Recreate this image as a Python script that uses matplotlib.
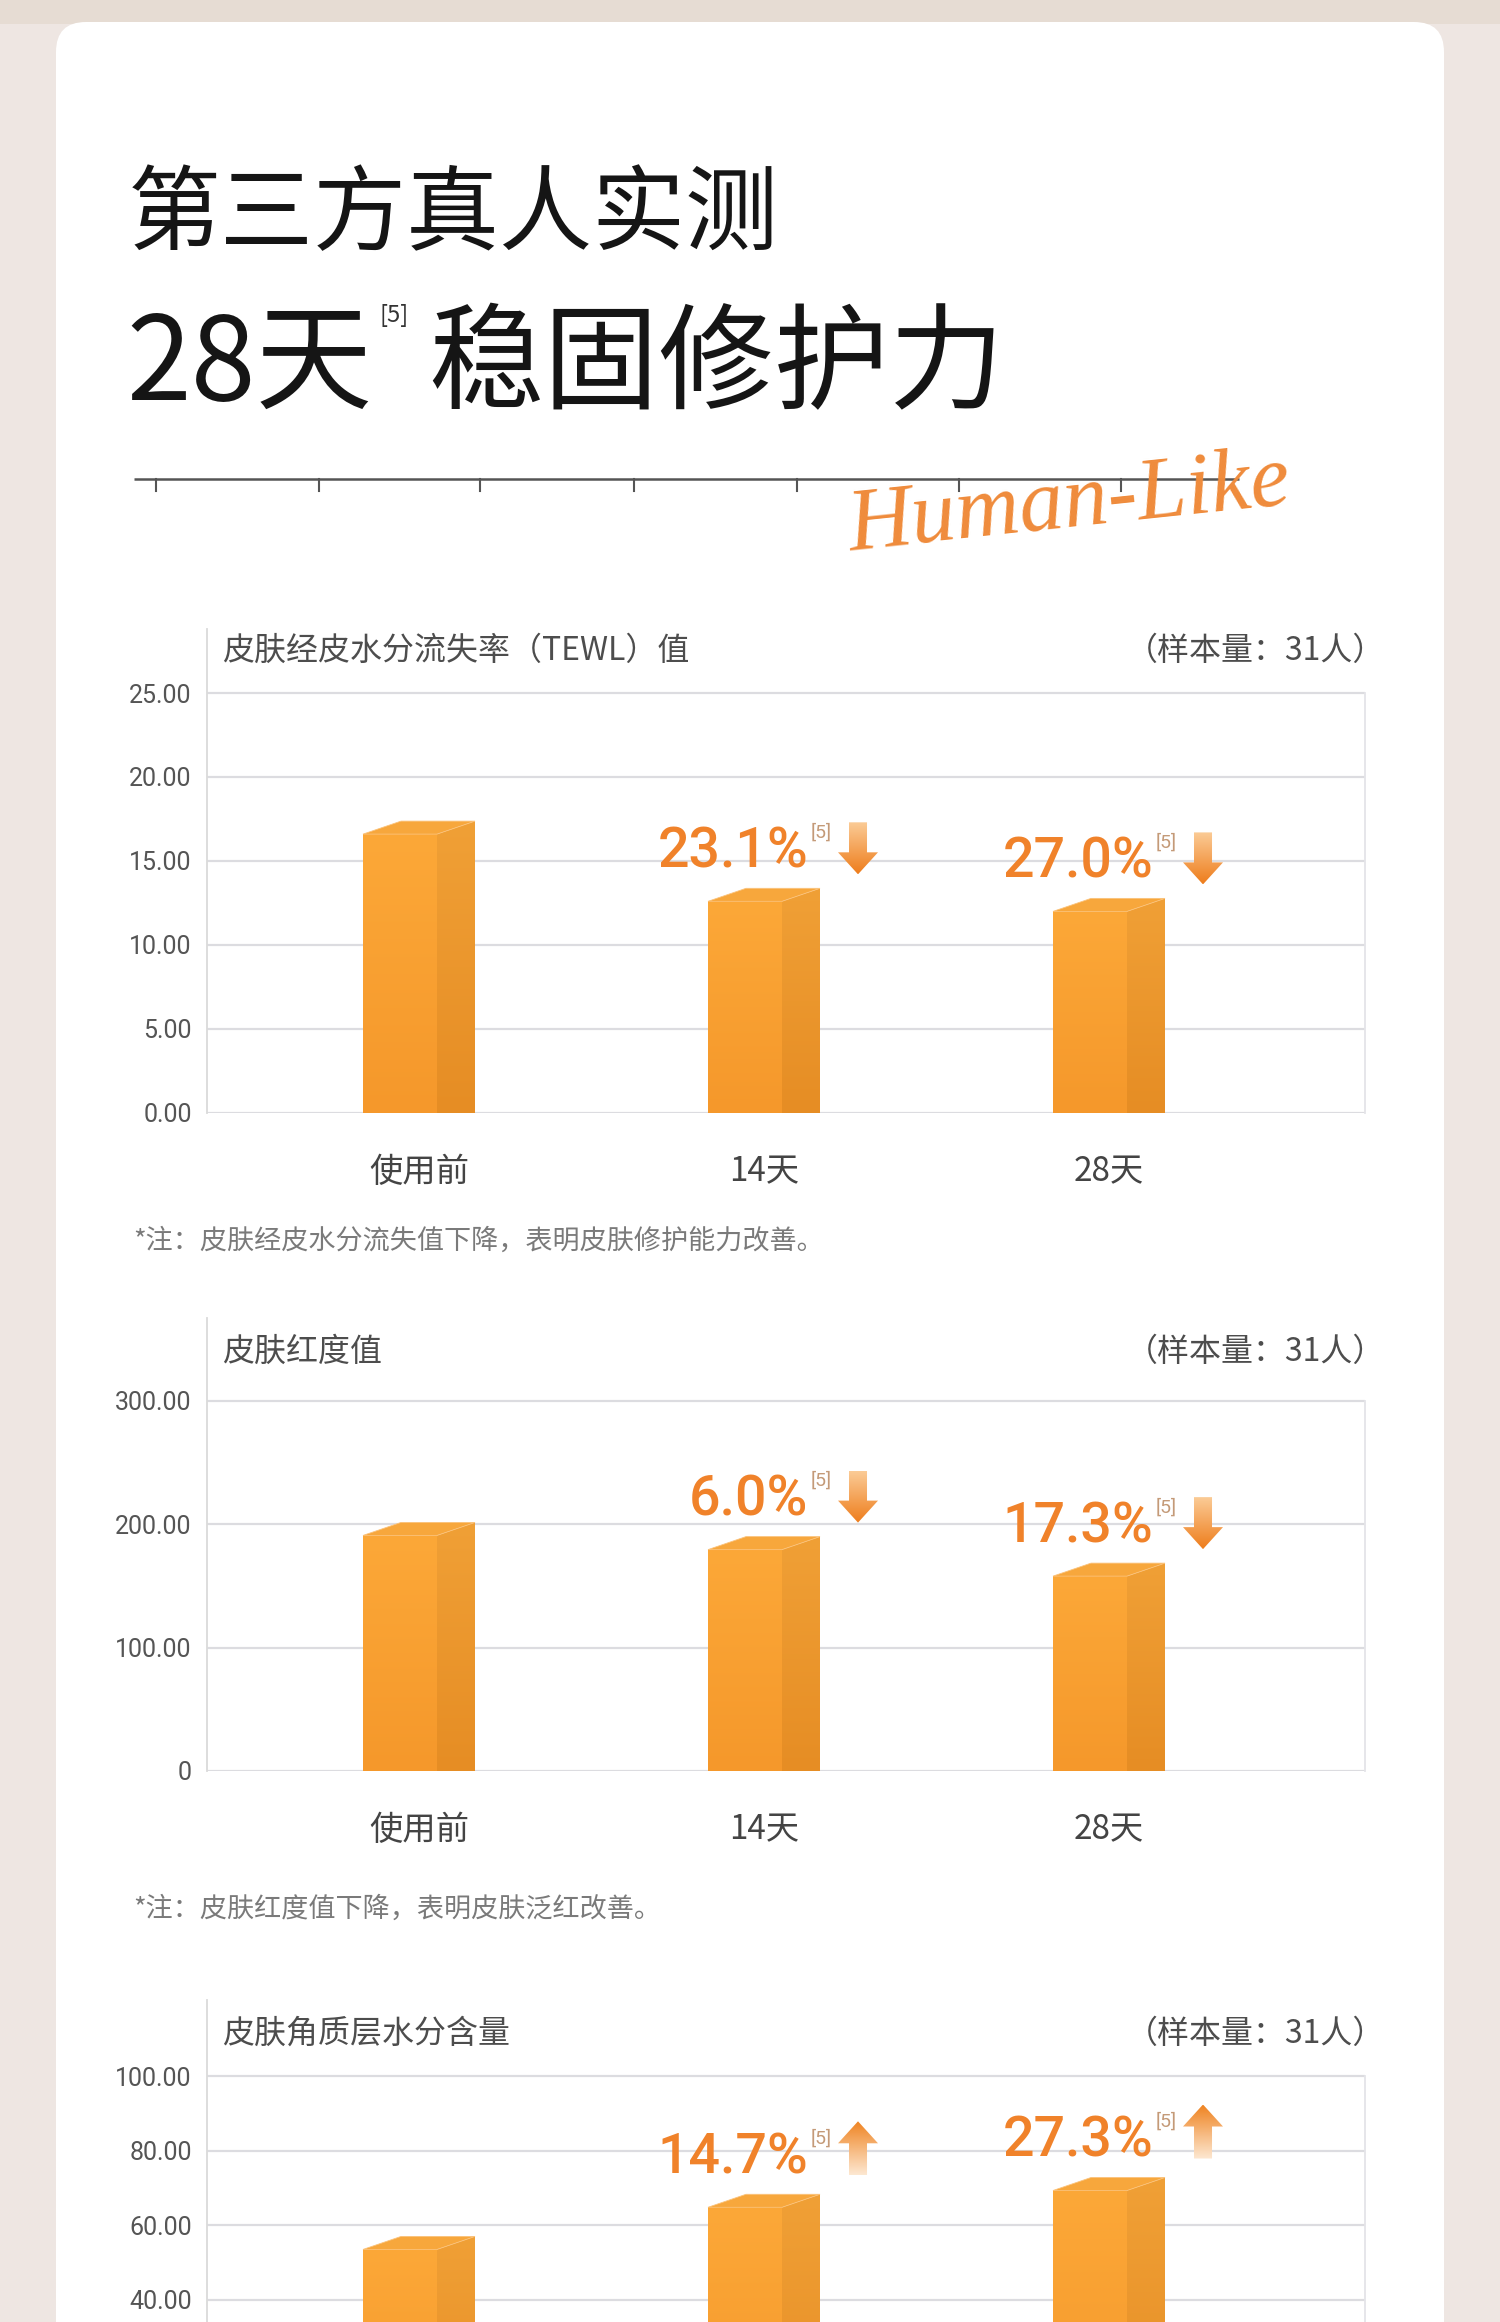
import numpy as np
import matplotlib as mpl
mpl.use('Agg')
import matplotlib.pyplot as plt
import matplotlib.transforms as mtransforms
from matplotlib.patches import Polygon, Rectangle, FancyBboxPatch
from matplotlib.colors import LinearSegmentedColormap

plt.rcParams['font.family'] = ['Noto Sans CJK SC', 'DejaVu Sans']

W, H = 1500, 2322

days = ['使用前', '14天', '28天']

# chart 1 : TEWL
tewl_vals = [16.6, 12.6, 12.0]
tewl_ticks = [0, 5, 10, 15, 20, 25]
tewl_ticklabels = ['0.00', '5.00', '10.00', '15.00', '20.00', '25.00']
tewl_change = [None, '23.1%', '27.0%']

# chart 2 : redness
red_vals = [191, 179.5, 158]
red_ticks = [0, 100, 200, 300]
red_ticklabels = ['0', '100.00', '200.00', '300.00']
red_change = [None, '6.0%', '17.3%']

# chart 3 : stratum corneum moisture (bottom part is cut off by the page)
moist_vals = [53.5, 64.8, 69.3]
moist_ticks = [40, 60, 80, 100]
moist_ticklabels = ['40.00', '60.00', '80.00', '100.00']
moist_change = [None, '14.7%', '27.3%']

sample_txt = '（样本量：31人）'

fig = plt.figure(figsize=(W / 100, H / 100), dpi=100)
fig.patch.set_facecolor('#EEE6E2')

# background / card, in pixel coords
bg = fig.add_axes([0, 0, 1, 1])
bg.set_xlim(0, W)
bg.set_ylim(H, 0)
bg.axis('off')
bg.add_patch(Rectangle((0, 0), W, 24, color='#E6DCD3', lw=0))
bg.add_patch(FancyBboxPatch((56, 22), 1388, 2500,
                            boxstyle='round,pad=0,rounding_size=30',
                            fc='white', ec='none'))

bg.text(128, 243, '第三方真人实测', fontsize=67, color='#151515',
        va='baseline', ha='left', fontweight='medium')
bg.text(126, 400, '28天', fontsize=84, color='#151515', va='baseline',
        ha='left', fontweight='medium')
bg.text(380, 304, '[5]', fontsize=17, color='#333333', va='top', ha='left')
bg.text(428, 400, '稳固修护力', fontsize=83, color='#151515', va='baseline',
        ha='left', fontweight='medium')

# ruler line
bg.plot([134, 1239], [479, 479], color='#555555', lw=1.8, solid_capstyle='butt')
for tx in [156, 319, 480, 634, 797, 959, 1121]:
    bg.plot([tx, tx], [479, 491], color='#555555', lw=1.5)
bg.text(1070, 505, 'Human-Like', fontsize=64, color='#EF8B3B',
        family='Liberation Serif', style='italic', ha='center', va='center',
        rotation=6)

# chart layout (pixels)
L, R = 207, 1365
XL = -0.6145
PXU = 345.0
XR = XL + (R - L) / PXU


def grad(ax, ext, c_top, c_bot, clip=None, z=3, transform=None):
    cm = LinearSegmentedColormap.from_list('g', [c_bot, c_top])
    g = np.linspace(0, 1, 128).reshape(-1, 1)
    kw = {} if transform is None else {'transform': transform}
    im = ax.imshow(g, cmap=cm, extent=ext, origin='lower', aspect='auto',
                   interpolation='bilinear', zorder=z, **kw)
    if clip is not None:
        im.set_clip_path(clip)
    return im


def draw_chart(vals, ticks, ticklabels, changes, up, title,
               top_px, base_px, grid_px, title_px, xlabels=True):
    gtop = ticks[-1]
    ymax = gtop * (base_px - top_px) / (base_px - grid_px)
    ax = fig.add_axes([L / W, 1 - base_px / H, (R - L) / W, (base_px - top_px) / H])
    ax.patch.set_alpha(0)
    ux = 1.0 / PXU
    uy = ymax / (base_px - top_px)
    x = np.arange(len(vals))

    for c, h, chg in zip(x, vals, changes):
        x0, x1, x2 = c - 56 * ux, c + 18 * ux, c + 56 * ux
        dy = 13 * uy
        # front face
        grad(ax, [x0, x1, 0, h], '#FCA838', '#F5982B', z=3)
        # side face
        side = Polygon([(x1, 0), (x2, 0), (x2, h + dy), (x1, h)], closed=True,
                       fc='none', ec='none')
        ax.add_patch(side)
        grad(ax, [x1, x2, 0, h + dy], '#F0A036', '#E68D24', clip=side, z=3)
        # top face
        ax.add_patch(Polygon([(x0, h), (x1, h), (x2, h + dy), (x0 + 38 * ux, h + dy)],
                             closed=True, fc='#F7A73C', ec='#FBC27A', lw=0.6, zorder=4))

        if chg is None:
            continue
        ax.annotate(chg, xy=(c, h), xytext=(44 * 0.72, 34 * 0.72),
                    textcoords='offset points', ha='right', va='baseline',
                    fontsize=40, color='#F0822A', family='Roboto',
                    fontweight='medium', zorder=6)
        ax.annotate('[5]', xy=(c, h), xytext=(47 * 0.72, 78 * 0.72),
                    textcoords='offset points', ha='left', va='top',
                    fontsize=14, color='#C49A78', family='Roboto', zorder=6)
        T = mtransforms.ScaledTranslation(c, h, ax.transData)
        ax_c = 94
        if up:
            bot, tip = 32, 86
            verts = [(ax_c - 9, bot), (ax_c + 9, bot), (ax_c + 9, tip - 22),
                     (ax_c + 20, tip - 22), (ax_c, tip), (ax_c - 20, tip - 22),
                     (ax_c - 9, tip - 22)]
            ctop, cbot = '#EF8422', '#FDE8D2'
            ext = [ax_c - 20, ax_c + 20, bot, tip]
        else:
            top, tip = 79, 27
            verts = [(ax_c - 9, top), (ax_c + 9, top), (ax_c + 9, tip + 22),
                     (ax_c + 20, tip + 22), (ax_c, tip), (ax_c - 20, tip + 22),
                     (ax_c - 9, tip + 22)]
            ctop, cbot = '#FBCB96', '#EE7D1C'
            ext = [ax_c - 20, ax_c + 20, tip, top]
        arrow = Polygon(verts, closed=True, fc='none', ec='none', transform=T)
        ax.add_patch(arrow)
        grad(ax, ext, ctop, cbot, clip=arrow, z=6, transform=T)

    ax.set_xlim(XL, XR)
    ax.set_ylim(0, ymax)
    ax.set_autoscale_on(False)

    ax.set_yticks(ticks, ticklabels, fontsize=18, color='#555555', family='Roboto')
    if xlabels:
        ax.set_xticks(x, days, fontsize=24, color='#444444')
    else:
        ax.set_xticks([])
    ax.tick_params(axis='y', length=0, pad=11)
    ax.tick_params(axis='x', length=0, pad=30)
    ax.yaxis.grid(True, color='#DCDCE0', lw=1.6)
    ax.set_axisbelow(True)
    for s in ['top', 'right', 'bottom']:
        ax.spines[s].set_visible(False)
    ax.spines['left'].set_color('#DADADA')
    ax.spines['left'].set_linewidth(1.3)
    ax.plot([XR, XR], [0, gtop], color='#E4E4E8', lw=1.3, clip_on=False, zorder=1)

    tf = (base_px - title_px) / (base_px - top_px)
    ax.text(15 / (R - L), tf, title, transform=ax.transAxes, fontsize=23,
            color='#4D4D4D', va='center', ha='left')
    ax.text(1 + 20 / (R - L), tf, sample_txt, transform=ax.transAxes,
            fontsize=23, color='#4D4D4D', va='center', ha='right')
    return ax


draw_chart(tewl_vals, tewl_ticks, tewl_ticklabels, tewl_change, False,
           '皮肤经皮水分流失率（TEWL）值', 629, 1113, 693, 651)
draw_chart(red_vals, red_ticks, red_ticklabels, red_change, False,
           '皮肤红度值', 1318, 1771, 1401, 1352)
draw_chart(moist_vals, moist_ticks, moist_ticklabels, moist_change, True,
           '皮肤角质层水分含量', 2000, 2449, 2076, 2034, xlabels=False)

bg.text(133, 1241, '*注：皮肤经皮水分流失值下降，表明皮肤修护能力改善。',
        fontsize=19.5, color='#7A7A7A', va='center', ha='left')
bg.text(133, 1909, '*注：皮肤红度值下降，表明皮肤泛红改善。',
        fontsize=19.5, color='#7A7A7A', va='center', ha='left')

plt.savefig('out.png', dpi=100, facecolor=fig.get_facecolor())
